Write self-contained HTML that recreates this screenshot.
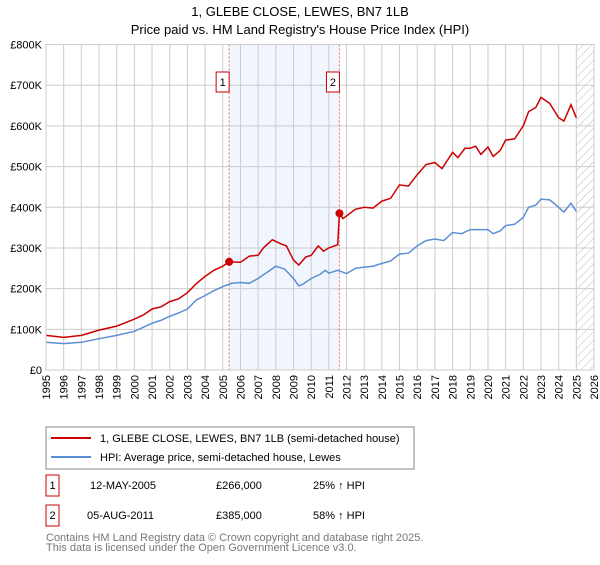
<!DOCTYPE html>
<html><head><meta charset="utf-8"><style>
body{margin:0;background:#fff;font-family:"Liberation Sans","DejaVu Sans",sans-serif}
svg text{font-family:"Liberation Sans","DejaVu Sans",sans-serif}
</style></head><body>
<svg id="c" width="600" height="560" xmlns="http://www.w3.org/2000/svg">
<defs><pattern id="hatch" width="6" height="6" patternUnits="userSpaceOnUse" patternTransform="rotate(45)"><line x1="0" y1="0" x2="0" y2="6" stroke="#bbb" stroke-width="1"/></pattern></defs>
<text x="300" y="16" text-anchor="middle" font-size="13">1, GLEBE CLOSE, LEWES, BN7 1LB</text>
<text x="300" y="34" text-anchor="middle" font-size="13">Price paid vs. HM Land Registry's House Price Index (HPI)</text>
<g id="plot"></g>
<rect x="46" y="427" width="368" height="42" fill="#fff" stroke="#888"/>
<line x1="51" y1="438" x2="91" y2="438" stroke="#cc0000" stroke-width="2"/>
<text x="100" y="442" font-size="11">1, GLEBE CLOSE, LEWES, BN7 1LB (semi-detached house)</text>
<line x1="51" y1="457" x2="91" y2="457" stroke="#5b8fd4" stroke-width="2"/>
<text x="100" y="461" font-size="11">HPI: Average price, semi-detached house, Lewes</text>
<g>
<rect x="46" y="475" width="13" height="21" fill="#fff" stroke="#cc0000"/>
<text x="52.5" y="489" font-size="11" text-anchor="middle">1</text>
<text x="90" y="489" font-size="11">12-MAY-2005</text>
<text x="216" y="489" font-size="11">£266,000</text>
<text x="313" y="489" font-size="11">25% ↑ HPI</text></g>
<g>
<rect x="46" y="505" width="13" height="21" fill="#fff" stroke="#cc0000"/>
<text x="52.5" y="519" font-size="11" text-anchor="middle">2</text>
<text x="87" y="519" font-size="11">05-AUG-2011</text>
<text x="216" y="519" font-size="11">£385,000</text>
<text x="313" y="519" font-size="11">58% ↑ HPI</text></g>
<text x="46" y="541" font-size="11" fill="#777">Contains HM Land Registry data © Crown copyright and database right 2025.</text>
<text x="46" y="551" font-size="11" fill="#777">This data is licensed under the Open Government Licence v3.0.</text>
</svg>
<script>
const yTicks=[0,100,200,300,400,500,600,700,800];
const yTickLabels=["£0","£100K","£200K","£300K","£400K","£500K","£600K","£700K","£800K"];
const xYears=[1995,1996,1997,1998,1999,2000,2001,2002,2003,2004,2005,2006,2007,2008,2009,2010,2011,2012,2013,2014,2015,2016,2017,2018,2019,2020,2021,2022,2023,2024,2025,2026];
const hpiT=[1995,1996,1997,1998,1999,2000,2000.5,2001,2001.5,2002,2002.5,2003,2003.5,2004,2004.5,2005,2005.5,2006,2006.5,2007,2007.5,2008,2008.5,2009,2009.3,2009.5,2010,2010.5,2010.8,2011,2011.5,2012,2012.5,2013,2013.5,2014,2014.5,2015,2015.5,2016,2016.5,2017,2017.5,2018,2018.5,2019,2019.5,2020,2020.3,2020.7,2021,2021.5,2022,2022.3,2022.7,2023,2023.5,2024,2024.3,2024.7,2025];
const hpiV=[68,65,68,77,85,95,105,115,122,132,140,150,172,183,195,205,213,215,213,225,240,255,248,225,207,210,225,235,245,238,245,237,250,253,255,262,268,285,287,305,318,322,318,338,335,345,345,345,335,342,355,358,375,400,405,420,418,400,388,410,390];
const propT=[1995,1996,1997,1998,1999,2000,2000.5,2001,2001.5,2002,2002.5,2003,2003.5,2004,2004.5,2005,2005.36,2006,2006.5,2007,2007.3,2007.8,2008.3,2008.6,2009,2009.3,2009.7,2010,2010.4,2010.7,2011,2011.5,2011.6,2011.8,2012.5,2013,2013.5,2014,2014.5,2015,2015.5,2016,2016.5,2017,2017.4,2018,2018.3,2018.7,2019,2019.3,2019.6,2020,2020.3,2020.7,2021,2021.5,2022,2022.3,2022.7,2023,2023.5,2024,2024.3,2024.7,2025];
const propV=[85,80,85,98,108,125,135,150,155,168,175,190,212,230,245,255,266,265,280,282,300,320,310,305,270,258,278,282,305,292,300,308,385,372,395,400,398,415,422,455,452,480,505,510,495,535,522,545,545,550,530,548,525,540,565,568,600,635,645,670,655,620,612,652,620];
const saleT=[2005.36,2011.6];
const saleV=[266,385];
const saleLabels=["1","2"];
const NS="http://www.w3.org/2000/svg";
const X0=46,X1=594,Y0=370,Y1=44.5;
const xs=t=>X0+(t-1995)/(2026-1995)*(X1-X0);
const ys=v=>Y0-v/800*(Y0-Y1);
const g=document.getElementById('plot');
function mk(tag,attrs){const e=document.createElementNS(NS,tag);for(const k in attrs)e.setAttribute(k,attrs[k]);g.appendChild(e);return e;}
let e=mk('rect',{x:xs(saleT[0]),y:Y1,width:xs(saleT[1])-xs(saleT[0]),height:Y0-Y1,fill:'#eef3fc',opacity:0.8});


e=mk('rect',{x:xs(2025),y:Y1,width:X1-xs(2025),height:Y0-Y1,fill:'url(#hatch)'});


yTicks.forEach((v,i)=>{
 let l=mk('line',{x1:X0,x2:X1,y1:ys(v),y2:ys(v),stroke:'#ccc'});
 
 
 let t=mk('text',{x:X0-4,y:ys(v)+4,'text-anchor':'end','font-size':11});
 t.textContent=yTickLabels[i];
 
 
});
xYears.forEach(yr=>{
 let l=mk('line',{x1:xs(yr),x2:xs(yr),y1:Y1,y2:Y0,stroke:'#ccc'});
 
 
 let t=mk('text',{x:0,y:0,'text-anchor':'end','font-size':11,transform:`translate(${xs(yr)+4},${Y0+5}) rotate(-90)`});
 t.textContent=yr;
 
 
});
saleT.forEach((t,i)=>{
 let l=mk('line',{x1:xs(t),x2:xs(t),y1:Y1,y2:Y0,stroke:'#f07070','stroke-dasharray':'2,2'});
 
 
 let r=mk('rect',{x:xs(t)-13,y:72,width:13,height:20,fill:'#fff',stroke:'#cc0000'});
 
 
 let tx=mk('text',{x:xs(t)-6.5,y:86,'text-anchor':'middle','font-size':11});
 tx.textContent=saleLabels[i];
 
 
});
function line(T,V,c,name){
 const p=mk('path',{d:T.map((t,i)=>(i?'L':'M')+xs(t).toFixed(1)+','+ys(V[i]).toFixed(1)).join(''),fill:'none',stroke:c,'stroke-width':1.5});
 
 
}
line(hpiT,hpiV,'#5b8fd4','hpi-line');
line(propT,propV,'#cc0000','property-line');
saleT.forEach((t,i)=>{
 let c=mk('circle',{cx:xs(t),cy:ys(saleV[i]),r:4,fill:'#cc0000'});
 
 
});
let b=mk('rect',{x:X0,y:Y1,width:X1-X0,height:Y0-Y1,fill:'none',stroke:'#ccc'});


</script>
</body></html>
